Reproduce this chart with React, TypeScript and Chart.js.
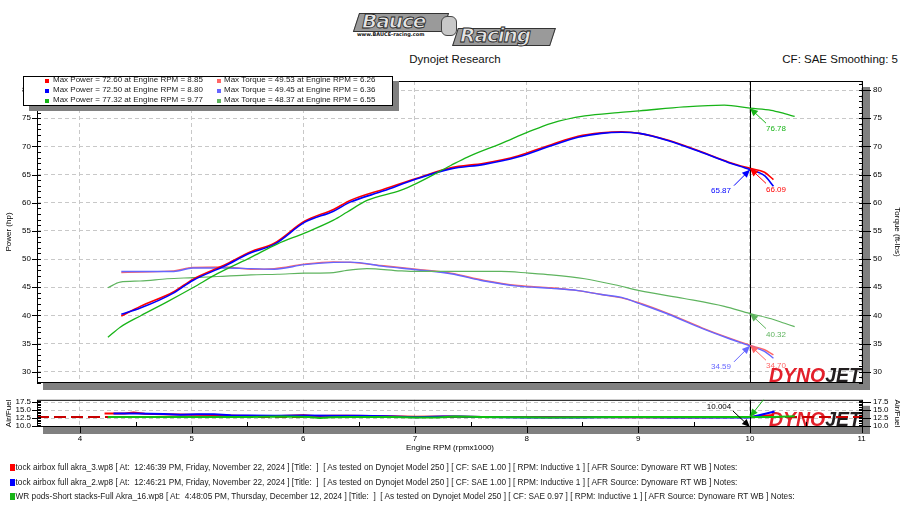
import { useEffect, useRef } from "react"
import { Chart, registerables } from "chart.js"

Chart.register(...registerables)

const FONT = "'Liberation Sans', Arial, sans-serif"

// axis ranges (rpm x1000, hp / ft-lbs, air/fuel)
const RPM_MIN = 3.615
const RPM_MAX = 11.012
const HP_MIN = 28
const HP_MAX = 81.6
const AFR_MIN = 9.75
const AFR_MAX = 18.25
const CURSOR_RPM = 10

// run 1: Stock airbox full akra_3 (red)
const redRpm = [4.37, 4.54, 4.84, 5.01, 5.29, 5.53, 5.74, 6.01, 6.27, 6.42, 6.72, 7.01, 7.32, 7.62, 7.92, 8.22, 8.46, 8.67, 8.85, 9.01, 9.27, 9.57, 9.81, 10.0, 10.13, 10.21]
const redPower = [39.9, 41.6, 44.2, 46.4, 48.9, 51.3, 52.8, 56.7, 58.8, 60.4, 62.4, 64.3, 66.2, 67.0, 68.3, 70.3, 71.8, 72.4, 72.6, 72.3, 71.1, 69.0, 67.2, 66.09, 65.4, 64.1]
const redTorque = [47.6, 47.7, 47.9, 48.5, 48.6, 48.2, 48.3, 49.1, 49.5, 49.4, 48.8, 48.2, 47.5, 46.2, 45.3, 44.9, 44.4, 43.7, 43.1, 42.2, 40.3, 37.8, 36.0, 34.7, 33.9, 33.0]
const redAfrRpm = [4.22, 4.4, 4.48, 4.58, 4.75, 5.0, 5.2, 5.4, 5.6, 5.8, 6.0, 6.1, 6.25, 6.4, 6.6, 6.75, 7.0, 7.3, 7.6, 8.0, 8.5, 9.0, 9.5, 10.0, 10.1, 10.21]
const redAfr = [14.0, 14.0, 14.25, 13.9, 13.75, 13.6, 13.5, 13.3, 13.2, 13.15, 13.4, 13.15, 13.3, 13.3, 13.15, 13.1, 12.95, 13.0, 12.9, 12.85, 12.85, 12.8, 12.8, 12.85, 13.2, 13.5]

// run 2: Stock airbox full akra_2 (blue)
const blueRpm = redRpm
const bluePower = [40.2, 41.3, 44.0, 46.2, 48.7, 51.1, 52.6, 56.5, 58.5, 60.1, 62.1, 64.2, 66.0, 66.8, 68.1, 70.1, 71.6, 72.3, 72.5, 72.3, 71.0, 68.9, 67.1, 65.87, 64.8, 62.9]
const blueTorque = [47.8, 47.8, 47.8, 48.4, 48.4, 48.3, 48.2, 49.0, 49.4, 49.45, 48.7, 48.1, 47.4, 46.1, 45.2, 44.8, 44.4, 43.7, 43.2, 42.1, 40.2, 37.7, 35.9, 34.59, 33.6, 32.4]
const blueAfrRpm = [4.3, 4.5, 4.75, 4.9, 5.05, 5.2, 5.35, 5.5, 5.75, 6.0, 6.25, 6.5, 6.75, 7.0, 7.25, 7.4, 7.6, 8.0, 8.5, 8.8, 9.3, 9.7, 10.0, 10.1, 10.22]
const blueAfr = [14.0, 14.0, 13.8, 13.6, 13.75, 13.7, 13.4, 13.35, 13.3, 13.35, 13.3, 13.25, 13.1, 12.8, 13.05, 13.0, 12.9, 12.75, 12.75, 12.9, 12.7, 12.7, 12.75, 13.6, 14.6]

// run 3: PWR pods-Short stacks-Full Akra_16 (green)
const greenRpm = [4.25, 4.36, 4.54, 4.78, 5.01, 5.23, 5.53, 5.77, 6.01, 6.27, 6.39, 6.57, 6.87, 7.01, 7.32, 7.47, 7.77, 8.02, 8.22, 8.52, 8.82, 9.01, 9.41, 9.77, 10.0, 10.19, 10.31, 10.4]
const greenPower = [36.1, 37.9, 39.9, 42.4, 44.9, 47.4, 50.3, 52.7, 54.6, 56.9, 58.3, 60.4, 62.2, 63.4, 66.6, 68.1, 70.5, 72.6, 74.1, 75.4, 76.0, 76.3, 77.0, 77.32, 76.78, 76.4, 75.8, 75.3]
const greenTorque = [44.9, 45.9, 46.1, 46.5, 46.7, 46.9, 47.2, 47.3, 47.5, 47.6, 48.0, 48.3, 47.9, 47.8, 47.8, 47.8, 47.8, 47.5, 47.2, 46.5, 45.3, 44.4, 43.0, 41.6, 40.32, 39.4, 38.6, 38.0]
const greenAfrRpm = [4.25, 4.6, 5.0, 5.2, 5.5, 5.8, 6.05, 6.15, 6.25, 6.4, 6.8, 7.0, 7.2, 7.35, 7.6, 8.0, 8.2, 8.5, 8.8, 9.3, 9.8, 10.0, 10.2, 10.4]
const greenAfr = [12.9, 12.9, 12.9, 12.85, 12.9, 13.0, 12.85, 12.6, 12.8, 12.9, 12.9, 12.75, 12.75, 13.0, 12.9, 12.8, 12.75, 12.8, 12.9, 12.9, 12.9, 12.9, 12.9, 13.1]

const afrTarget = 12.9

// cursor read-outs at 10.0 rpm x1000 (red, blue, green)
const cursorPower = [66.09, 65.87, 76.78]
const cursorTorque = [34.7, 34.59, 40.32]
const cursorRpmText = "10.004"

const legendRows = [
  ["Max Power = 72.60 at Engine RPM = 8.85", "Max Torque = 49.53 at Engine RPM = 6.26"],
  ["Max Power = 72.50 at Engine RPM = 8.80", "Max Torque = 49.45 at Engine RPM = 6.36"],
  ["Max Power = 77.32 at Engine RPM = 9.77", "Max Torque = 48.37 at Engine RPM = 6.55"],
]

const runNotes = [
  "Stock airbox full akra_3.wp8 [ At:  12:46:39 PM, Friday, November 22, 2024 ] [Title:  ]  [ As tested on Dynojet Model 250 ] [ CF: SAE 1.00 ] [ RPM: Inductive 1 ] [ AFR Source: Dynoware RT WB ] Notes:",
  "Stock airbox full akra_2.wp8 [ At:  12:46:21 PM, Friday, November 22, 2024 ] [Title:  ]  [ As tested on Dynojet Model 250 ] [ CF: SAE 1.00 ] [ RPM: Inductive 1 ] [ AFR Source: Dynoware RT WB ] Notes:",
  "PWR pods-Short stacks-Full Akra_16.wp8 [ At:  4:48:05 PM, Thursday, December 12, 2024 ] [Title:  ]  [ As tested on Dynojet Model 250 ] [ CF: SAE 0.97 ] [ RPM: Inductive 1 ] [ AFR Source: Dynoware RT WB ] Notes:",
]

const RED = "#ff0000"
const BLUE = "#0000ff"
const GREEN = "#18b418"
const RED_TQ = "#ff6666"
const BLUE_TQ = "#6666ff"
const GREEN_TQ = "#5fb45f"
const runColors = [RED, BLUE, GREEN]
const torqueColors = [RED_TQ, BLUE_TQ, GREEN_TQ]

const pts = (xs: number[], ys: number[]) => xs.map((x, i) => ({ x, y: ys[i] }))

type TickSpec = { axis: string; minor: number; major: number; side: "left" | "right" | "bottom"; inner: number; outer: number }
type Mark = { axis: string; value?: number; text: string; color: string; lx: number; ly: number; ax: number; ay: number }

function arrow(ctx: CanvasRenderingContext2D, sx: number, sy: number, tx: number, ty: number, color: string) {
  ctx.strokeStyle = color
  ctx.fillStyle = color
  ctx.lineWidth = 1
  ctx.beginPath()
  ctx.moveTo(sx, sy)
  ctx.lineTo(tx, ty)
  ctx.stroke()
  const a = Math.atan2(ty - sy, tx - sx)
  const L = 8
  const W = 3.5
  ctx.beginPath()
  ctx.moveTo(tx, ty)
  ctx.lineTo(tx - L * Math.cos(a) + W * Math.sin(a), ty - L * Math.sin(a) - W * Math.cos(a))
  ctx.lineTo(tx - L * Math.cos(a) - W * Math.sin(a), ty - L * Math.sin(a) + W * Math.cos(a))
  ctx.closePath()
  ctx.fill()
}

// panel look of the dyno software: shadow, frame, tick rungs, watermark, cursor
function dynoPanel(ticks: TickSpec[], marks: Mark[]) {
  return {
    id: "dynoPanel",
    beforeDraw(chart: any) {
      const { ctx, chartArea: a } = chart
      ctx.save()
      ctx.fillStyle = "#808080"
      ctx.fillRect(a.left + 6, a.top + 6, a.right - a.left + 1, a.bottom - a.top + 1)
      ctx.fillStyle = "#ffffff"
      ctx.fillRect(a.left, a.top, a.right - a.left, a.bottom - a.top)
      ctx.restore()
    },
    beforeDatasetsDraw(chart: any) {
      const { ctx, chartArea: a } = chart
      ctx.save()
      ctx.beginPath()
      ctx.rect(a.left, a.top, a.right - a.left, a.bottom - a.top)
      ctx.clip()
      ctx.font = `italic bold 19.5px ${FONT}`
      ctx.textBaseline = "alphabetic"
      const wJet = ctx.measureText("JET").width
      const wDyno = ctx.measureText("DYNO").width
      const right = a.right - 2
      ctx.fillStyle = "#e3202b"
      ctx.fillText("DYNO", right - wJet - wDyno, a.bottom - 1)
      ctx.fillStyle = "#231f20"
      ctx.fillText("JET", right - wJet, a.bottom - 1)
      ctx.restore()
    },
    afterDatasetsDraw(chart: any) {
      const { ctx, chartArea: a } = chart
      ctx.save()
      // tick rungs
      ctx.strokeStyle = "#000"
      ctx.lineWidth = 1
      ctx.beginPath()
      for (const s of ticks) {
        const sc = chart.scales[s.axis]
        const n0 = Math.ceil(sc.min / s.minor - 1e-9)
        const n1 = Math.floor(sc.max / s.minor + 1e-9)
        for (let n = n0; n <= n1; n++) {
          const v = n * s.minor
          const major = Math.abs(v / s.major - Math.round(v / s.major)) < 1e-6
          const p = Math.round(sc.getPixelForValue(v)) + 0.5
          if (s.side === "left") {
            ctx.moveTo(a.left - (major ? s.outer : 0), p)
            ctx.lineTo(a.left + s.inner, p)
          } else if (s.side === "right") {
            ctx.moveTo(a.right + (major ? s.outer : 0), p)
            ctx.lineTo(a.right - s.inner, p)
          } else if (major) {
            ctx.moveTo(p, a.bottom)
            ctx.lineTo(p, a.bottom + s.outer)
          } else {
            ctx.moveTo(p, a.bottom)
            ctx.lineTo(p, a.bottom - s.inner)
          }
        }
      }
      ctx.stroke()
      // frame
      ctx.strokeRect(a.left + 0.5, a.top + 0.5, a.right - a.left - 1, a.bottom - a.top - 1)
      // cursor
      const cx = Math.round(chart.scales.x.getPixelForValue(CURSOR_RPM)) + 0.5
      ctx.beginPath()
      ctx.moveTo(cx, a.top)
      ctx.lineTo(cx, a.bottom)
      ctx.stroke()
      // cursor read-outs
      ctx.beginPath()
      ctx.rect(a.left, a.top, a.right - a.left, a.bottom - a.top)
      ctx.clip()
      ctx.font = `8px ${FONT}`
      ctx.textAlign = "center"
      ctx.textBaseline = "middle"
      for (const m of marks) {
        const tx = chart.scales.x.getPixelForValue(CURSOR_RPM)
        const ty = m.value === undefined ? a.bottom : chart.scales[m.axis].getPixelForValue(m.value)
        arrow(ctx, tx + m.ax, ty + m.ay, tx, ty, m.color)
        if (m.text) {
          ctx.fillStyle = m.color
          ctx.fillText(m.text, tx + m.lx, ty + m.ly)
        }
      }
      ctx.restore()
    },
  }
}

const fixWidth = (w: number) => (scale: any) => {
  scale.width = w
}
const fixHeight = (h: number) => (scale: any) => {
  scale.height = h
}

const GRID = "#c8c8c8"
const tickFont = { family: FONT, size: 8 }

export default function App() {
  const mainRef = useRef<HTMLCanvasElement>(null)
  const afrRef = useRef<HTMLCanvasElement>(null)

  useEffect(() => {
    if (!mainRef.current || !afrRef.current) return

    const powerMarks: Mark[] = [
      { axis: "y", value: cursorPower[2], text: cursorPower[2].toFixed(2), color: GREEN, lx: 26, ly: 21, ax: 16, ay: 15 },
      { axis: "y", value: cursorPower[0], text: cursorPower[0].toFixed(2), color: RED, lx: 26, ly: 21, ax: 16, ay: 15 },
      { axis: "y", value: cursorPower[1], text: cursorPower[1].toFixed(2), color: BLUE, lx: -29, ly: 21, ax: -16, ay: 16 },
      { axis: "y1", value: cursorTorque[2], text: cursorTorque[2].toFixed(2), color: GREEN_TQ, lx: 26, ly: 21, ax: 16, ay: 15 },
      { axis: "y1", value: cursorTorque[0], text: cursorTorque[0].toFixed(2), color: RED_TQ, lx: 26, ly: 21, ax: 16, ay: 15 },
      { axis: "y1", value: cursorTorque[1], text: cursorTorque[1].toFixed(2), color: BLUE_TQ, lx: -29, ly: 21, ax: -16, ay: 16 },
    ]
    const afrMarks: Mark[] = [
      { axis: "ya", value: greenAfr[21], text: "", color: GREEN, lx: 0, ly: 0, ax: 22, ay: -28 },
      { axis: "ya", text: cursorRpmText, color: "#000", lx: -31, ly: -20, ax: -17, ay: -16 },
    ]

    const mainChart = new Chart(mainRef.current, {
      type: "line",
      data: {
        datasets: [
          { label: "hp 2", data: pts(blueRpm, bluePower), borderColor: BLUE, borderWidth: 1.6, yAxisID: "y", order: 2 },
          { label: "hp 1", data: pts(redRpm, redPower), borderColor: RED, borderWidth: 1.6, yAxisID: "y", order: 3 },
          { label: "hp 3", data: pts(greenRpm, greenPower), borderColor: GREEN, borderWidth: 1.3, yAxisID: "y", order: 1 },
          { label: "tq 2", data: pts(blueRpm, blueTorque), borderColor: BLUE_TQ, borderWidth: 1.4, yAxisID: "y1", order: 5 },
          { label: "tq 1", data: pts(redRpm, redTorque), borderColor: RED_TQ, borderWidth: 1.4, yAxisID: "y1", order: 6 },
          { label: "tq 3", data: pts(greenRpm, greenTorque), borderColor: GREEN_TQ, borderWidth: 1.2, yAxisID: "y1", order: 4 },
        ],
      },
      options: {
        responsive: true,
        maintainAspectRatio: false,
        animation: false,
        parsing: false,
        elements: { point: { radius: 0 }, line: { tension: 0.25, cubicInterpolationMode: "monotone" } },
        layout: { padding: { top: 81, bottom: 17, left: 0, right: 0 } },
        plugins: { legend: { display: false }, tooltip: { enabled: false } },
        scales: {
          x: {
            type: "linear",
            min: RPM_MIN,
            max: RPM_MAX,
            afterFit: fixHeight(0),
            ticks: { display: false, stepSize: 1, includeBounds: false },
            grid: { color: GRID, drawTicks: false },
            border: { display: false, dash: [4, 3] },
          },
          y: {
            position: "left",
            min: HP_MIN,
            max: HP_MAX,
            afterFit: fixWidth(37),
            ticks: { stepSize: 5, includeBounds: false, autoSkip: false, padding: 6, color: "#000", font: tickFont },
            grid: { color: GRID, drawTicks: false },
            border: { display: false, dash: [4, 3] },
            title: { display: true, text: "Power (hp)", color: "#000", font: tickFont, padding: { top: 4, bottom: 0 } },
          },
          y1: {
            position: "right",
            min: HP_MIN,
            max: HP_MAX,
            afterFit: fixWidth(47),
            ticks: { stepSize: 5, includeBounds: false, autoSkip: false, padding: 10, color: "#000", font: tickFont },
            grid: { drawOnChartArea: false, drawTicks: false },
            border: { display: false },
            title: { display: true, text: "Torque (ft-lbs)", color: "#000", font: tickFont, padding: { top: 8, bottom: 0 } },
          },
        },
      },
      plugins: [
        dynoPanel(
          [
            { axis: "y", minor: 1, major: 5, side: "left", inner: 4, outer: 5 },
            { axis: "y1", minor: 1, major: 5, side: "right", inner: 4, outer: 8 },
          ],
          powerMarks
        ),
      ],
    } as any)

    const afrChart = new Chart(afrRef.current, {
      type: "line",
      data: {
        datasets: [
          { label: "afr 3", data: pts(greenAfrRpm, greenAfr), borderColor: "#10c010", borderWidth: 2, yAxisID: "ya", order: 1 },
          { label: "afr 2", data: pts(blueAfrRpm, blueAfr), borderColor: BLUE, borderWidth: 2, yAxisID: "ya", order: 2 },
          { label: "afr 1", data: pts(redAfrRpm, redAfr), borderColor: RED, borderWidth: 2, yAxisID: "ya", order: 3 },
          {
            label: "target",
            data: [
              { x: RPM_MIN, y: afrTarget },
              { x: RPM_MAX, y: afrTarget },
            ],
            borderColor: "#c80000",
            borderWidth: 2,
            borderDash: [12, 5],
            yAxisID: "ya",
            order: 9,
          },
        ],
      },
      options: {
        responsive: true,
        maintainAspectRatio: false,
        animation: false,
        parsing: false,
        elements: { point: { radius: 0 }, line: { tension: 0 } },
        layout: { padding: { top: 8, bottom: 0, left: 0, right: 0 } },
        plugins: { legend: { display: false }, tooltip: { enabled: false } },
        scales: {
          x: {
            type: "linear",
            min: RPM_MIN,
            max: RPM_MAX,
            afterFit: fixHeight(28),
            ticks: { stepSize: 1, includeBounds: false, padding: 7, color: "#000", font: tickFont },
            grid: { color: GRID, drawTicks: false },
            border: { display: false, dash: [4, 3] },
            title: { display: true, text: "Engine RPM (rpmx1000)", color: "#000", font: tickFont, padding: { top: 0, bottom: 2 } },
          },
          ya: {
            position: "left",
            min: AFR_MIN,
            max: AFR_MAX,
            afterFit: fixWidth(37),
            ticks: { stepSize: 2.5, includeBounds: false, autoSkip: false, padding: 6, color: "#000", font: tickFont, callback: (v: any) => Number(v).toFixed(1) },
            grid: { color: GRID, drawTicks: false },
            border: { display: false, dash: [4, 3] },
            title: { display: true, text: "Air/Fuel", color: "#000", font: tickFont, padding: { top: 4, bottom: 0 } },
          },
          yb: {
            position: "right",
            min: AFR_MIN,
            max: AFR_MAX,
            afterFit: fixWidth(47),
            ticks: { stepSize: 2.5, includeBounds: false, autoSkip: false, padding: 10, color: "#000", font: tickFont, callback: (v: any) => Number(v).toFixed(1) },
            grid: { drawOnChartArea: false, drawTicks: false },
            border: { display: false },
            title: { display: true, text: "Air/Fuel", color: "#000", font: tickFont, padding: { top: 8, bottom: 0 } },
          },
        },
      },
      plugins: [
        dynoPanel(
          [
            { axis: "ya", minor: 0.5, major: 2.5, side: "left", inner: 4, outer: 5 },
            { axis: "yb", minor: 0.5, major: 2.5, side: "right", inner: 4, outer: 8 },
            { axis: "x", minor: 0.5, major: 1, side: "bottom", inner: 5, outer: 6 },
          ],
          afrMarks
        ),
      ],
    } as any)

    return () => {
      mainChart.destroy()
      afrChart.destroy()
    }
  }, [])

  const abs = (s: any) => ({ position: "absolute" as const, ...s })

  return (
    <div style={abs({ left: 0, top: 0, width: 910, height: 512, background: "#fff", overflow: "hidden", fontFamily: FONT, color: "#1a1a1a" })}>
      {/* logo */}
      <div style={abs({ left: 356, top: 13, width: 88, height: 17, background: "#9a9a9a", border: "1px solid #333", transform: "skewX(-18deg)" })} />
      <div style={abs({ left: 362, top: 9, fontSize: 20, fontWeight: 900, fontStyle: "italic", fontFamily: "'DejaVu Sans'", color: "#e4e4e4", WebkitTextStroke: "0.8px #222", letterSpacing: -1, lineHeight: "24px" })}>Bauce</div>
      <div style={abs({ left: 357, top: 31, fontSize: 5, fontWeight: 700, fontFamily: "'DejaVu Sans'", color: "#111", lineHeight: "6px" })}>www.BAUCE-racing.com</div>
      <div style={abs({ left: 441, top: 16, width: 14, height: 18, borderRadius: 6, background: "#c8c8c8", border: "1px solid #444" })} />
      <div style={abs({ left: 455, top: 28, width: 96, height: 16, background: "#9a9a9a", border: "1px solid #333", transform: "skewX(-18deg)" })} />
      <div style={abs({ left: 460, top: 23, fontSize: 20, fontWeight: 900, fontStyle: "italic", fontFamily: "'DejaVu Sans'", color: "#e4e4e4", WebkitTextStroke: "0.8px #222", letterSpacing: -1, lineHeight: "24px" })}>Racing</div>

      <div style={abs({ left: 0, top: 52, width: 910, textAlign: "center", fontSize: 11.5, lineHeight: "15px", color: "#111" })}>Dynojet Research</div>
      <div style={abs({ right: 12, top: 52, fontSize: 11.5, lineHeight: "15px", color: "#111" })}>CF: SAE Smoothing: 5</div>

      <div style={abs({ left: 0, top: 0, width: 910, height: 400 })}>
        <canvas ref={mainRef} />
      </div>
      <div style={abs({ left: 0, top: 385, width: 910, height: 70 })}>
        <canvas ref={afrRef} />
      </div>

      {/* legend */}
      <div style={abs({ left: 23, top: 76, width: 370, height: 30, boxSizing: "border-box", background: "#fff", border: "1px solid #000", boxShadow: "6px 5px 0 #808080" })} />
      {legendRows.map((row, i) => (
        <div key={i}>
          <div style={abs({ left: 45, top: 78.5 + i * 10, width: 4, height: 4, background: runColors[i] })} />
          <div style={abs({ left: 53, top: 75 + i * 10, fontSize: 8, lineHeight: "10px", whiteSpace: "pre" })}>{row[0]}</div>
          <div style={abs({ left: 217, top: 78.5 + i * 10, width: 4, height: 4, background: torqueColors[i] })} />
          <div style={abs({ left: 224, top: 75 + i * 10, fontSize: 8, lineHeight: "10px", whiteSpace: "pre" })}>{row[1]}</div>
        </div>
      ))}

      {/* run notes */}
      {runNotes.map((t, i) => (
        <div key={i}>
          <div style={abs({ left: 10, top: 462 + i * 14.5, fontSize: 8.25, lineHeight: "12px", whiteSpace: "pre" })}>{t}</div>
          <div style={abs({ left: 10, top: 464 + i * 14.5, width: 5, height: 7, background: runColors[i] })} />
        </div>
      ))}
    </div>
  )
}
